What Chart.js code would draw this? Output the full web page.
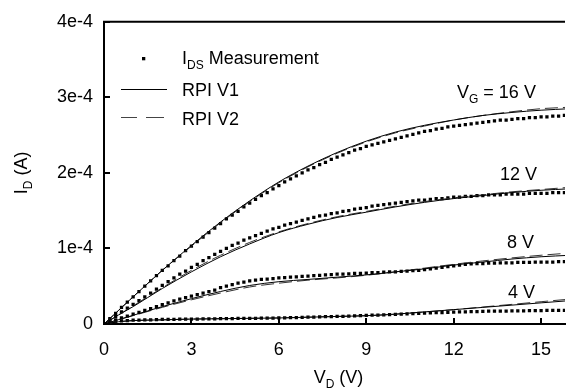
<!DOCTYPE html>
<html><head><meta charset="utf-8">
<script src="https://cdn.jsdelivr.net/npm/chart.js@4/dist/chart.umd.min.js"></script>
<style>html,body{margin:0;padding:0;background:#fff}#wrap{width:569px;height:389px}</style>
</head><body><div id="wrap"><canvas id="c" width="569" height="389"></canvas></div>
<script>
// Drain voltage V_D (V) for measured points
const vdMeas = [0,0.2,0.4,0.6,0.8,1,1.2,1.4,1.6,1.8,
 2,2.2,2.4,2.6,2.8,3,3.2,3.4,3.6,3.8,
 4,4.2,4.4,4.6,4.8,5,5.2,5.4,5.6,5.8,
 6,6.2,6.4,6.6,6.8,7,7.2,7.4,7.6,7.8,
 8,8.2,8.4,8.6,8.8,9,9.2,9.4,9.6,9.8,
 10,10.2,10.4,10.6,10.8,11,11.2,11.4,11.6,11.8,
 12,12.2,12.4,12.6,12.8,13,13.2,13.4,13.6,13.8,
 14,14.2,14.4,14.6,14.8,15,15.2,15.4,15.6,15.8,
 16];
// Measured I_DS in units of 1e-4 A
const idMeas16 = [0,0.07,0.14,0.22,0.29,0.36,0.43,0.50,0.57,0.64,
 0.71,0.77,0.84,0.90,0.97,1.03,1.09,1.15,1.21,1.27,
 1.33,1.39,1.44,1.49,1.55,1.60,1.65,1.70,1.74,1.79,
 1.83,1.88,1.92,1.96,2.00,2.04,2.07,2.11,2.14,2.18,
 2.21,2.24,2.27,2.30,2.32,2.35,2.37,2.39,2.41,2.43,
 2.45,2.47,2.49,2.51,2.53,2.55,2.56,2.58,2.59,2.61,
 2.62,2.63,2.64,2.65,2.66,2.67,2.68,2.69,2.70,2.70,
 2.71,2.72,2.72,2.73,2.73,2.74,2.74,2.75,2.75,2.76,
 2.76];
const idMeas12 = [0,0.05,0.10,0.16,0.21,0.26,0.31,0.36,0.41,0.46,
 0.51,0.56,0.61,0.66,0.70,0.75,0.79,0.84,0.88,0.92,
 0.96,1.00,1.04,1.07,1.11,1.14,1.17,1.20,1.23,1.26,
 1.28,1.31,1.33,1.35,1.37,1.39,1.41,1.43,1.44,1.46,
 1.47,1.49,1.50,1.52,1.53,1.54,1.56,1.57,1.58,1.59,
 1.60,1.61,1.62,1.63,1.64,1.64,1.65,1.66,1.66,1.67,
 1.68,1.68,1.69,1.69,1.70,1.70,1.71,1.71,1.71,1.72,
 1.72,1.72,1.72,1.73,1.73,1.73,1.73,1.74,1.74,1.74,
 1.74];
const idMeas8 = [0,0.03,0.055,0.08,0.105,0.13,0.155,0.18,0.205,0.23,
 0.255,0.28,0.305,0.33,0.35,0.37,0.39,0.41,0.43,0.45,
 0.48,0.50,0.52,0.54,0.555,0.57,0.58,0.59,0.595,0.60,
 0.61,0.615,0.62,0.625,0.63,0.635,0.64,0.645,0.65,0.655,
 0.66,0.66,0.665,0.67,0.67,0.675,0.68,0.68,0.685,0.69,
 0.69,0.695,0.70,0.705,0.71,0.72,0.73,0.74,0.75,0.76,
 0.77,0.78,0.79,0.795,0.80,0.80,0.805,0.805,0.81,0.81,
 0.81,0.815,0.815,0.815,0.82,0.82,0.82,0.82,0.825,0.825,
 0.83];
const idMeas4 = [0,0.015,0.03,0.04,0.045,0.05,0.052,0.054,0.056,0.058,
 0.06,0.06,0.062,0.063,0.064,0.065,0.066,0.067,0.068,0.069,
 0.07,0.071,0.072,0.073,0.074,0.075,0.076,0.077,0.078,0.079,
 0.08,0.082,0.084,0.086,0.088,0.09,0.092,0.094,0.096,0.098,
 0.10,0.102,0.104,0.107,0.11,0.113,0.116,0.119,0.122,0.125,
 0.128,0.131,0.134,0.137,0.14,0.143,0.146,0.149,0.152,0.155,
 0.157,0.159,0.161,0.163,0.165,0.167,0.169,0.17,0.171,0.172,
 0.173,0.174,0.175,0.176,0.177,0.178,0.179,0.18,0.18,0.181,
 0.182];
// Model curves (units 1e-4 A)
const vdModel = [0,0.5,1,2,3,4,5,6,7,8,9,10,11,12,13,14,15,16];
const idV1_16 = [0,0.18,0.36,0.71,1.04,1.35,1.63,1.88,2.09,2.27,2.42,2.54,2.63,2.70,2.76,2.80,2.83,2.85];
const idV2_16 = [0,0.18,0.36,0.71,1.03,1.34,1.62,1.87,2.08,2.26,2.41,2.53,2.62,2.70,2.76,2.81,2.85,2.87];
const idV1_12 = [0,0.12,0.23,0.47,0.69,0.89,1.06,1.21,1.32,1.41,1.48,1.55,1.61,1.66,1.70,1.74,1.77,1.79];
const idV2_12 = [0,0.12,0.24,0.48,0.71,0.91,1.08,1.22,1.33,1.42,1.49,1.56,1.62,1.67,1.71,1.75,1.78,1.81];
const idV1_8 = [0,0.058,0.115,0.23,0.335,0.43,0.51,0.56,0.59,0.62,0.65,0.69,0.73,0.78,0.82,0.86,0.89,0.91];
const idV2_8 = [0,0.056,0.11,0.22,0.32,0.41,0.49,0.54,0.58,0.61,0.645,0.69,0.74,0.79,0.835,0.875,0.91,0.94];
const idV1_4 = [0,0.03,0.045,0.055,0.065,0.07,0.075,0.08,0.09,0.10,0.11,0.13,0.16,0.19,0.22,0.25,0.28,0.31];
const idV2_4 = [0,0.03,0.045,0.055,0.065,0.07,0.075,0.08,0.09,0.10,0.11,0.13,0.16,0.19,0.225,0.26,0.295,0.33];

const xTicks = [0,3,6,9,12,15];
const yTicks = [0,1,2,3,4];
const yTickLabels = ['0','1e-4','2e-4','3e-4','4e-4'];

const FONT = '"Liberation Sans", Arial, Helvetica, sans-serif';
const pts = (xs, ys) => xs.map((x, i) => ({x: x, y: ys[i]}));

const measSet = (ys) => ({data: pts(vdMeas, ys), showLine: false, pointStyle: 'rect',
  pointRadius: 2.3, pointBackgroundColor: '#000', pointBorderWidth: 0, borderWidth: 0, order: 2});
const solidSet = (ys) => ({data: pts(vdModel, ys), showLine: true, pointRadius: 0, borderColor: '#000',
  borderWidth: 1, cubicInterpolationMode: 'monotone', order: 1});
const dashSet = (ys) => ({data: pts(vdModel, ys), showLine: true, pointRadius: 0, borderColor: '#333',
  borderWidth: 1, borderDash: [13, 5], cubicInterpolationMode: 'monotone', order: 1});

function drawParts(ctx, parts, x, y) {
  let cx = x;
  for (const [t, sub] of parts) {
    ctx.font = (sub ? '12px ' : '18px ') + FONT;
    ctx.fillText(t, cx, y + (sub ? 5 : 0));
    cx += ctx.measureText(t).width;
  }
  return cx - x;
}
function partsWidth(ctx, parts) {
  let w = 0;
  for (const [t, sub] of parts) { ctx.font = (sub ? '12px ' : '18px ') + FONT; w += ctx.measureText(t).width; }
  return w;
}

const decor = {
  id: 'decor',
  afterDatasetsDraw(chart) {
    const {ctx, chartArea: a, scales: {x, y}} = chart;
    ctx.save();
    ctx.strokeStyle = '#000'; ctx.fillStyle = '#000';
    // top frame
    ctx.lineWidth = 2;
    ctx.beginPath(); ctx.moveTo(a.left - 1, a.top); ctx.lineTo(a.right, a.top); ctx.stroke();
    // inward ticks
    for (const v of xTicks) {
      const px = Math.round(x.getPixelForValue(v));
      ctx.beginPath(); ctx.moveTo(px, a.bottom); ctx.lineTo(px, a.bottom - 6); ctx.stroke();
    }
    for (const v of yTicks) {
      const py = Math.round(y.getPixelForValue(v));
      ctx.beginPath(); ctx.moveTo(a.left, py); ctx.lineTo(a.left + 6, py); ctx.stroke();
    }
    ctx.textBaseline = 'alphabetic'; ctx.textAlign = 'left';
    // legend
    ctx.fillRect(142, 57, 3.3, 3.3);
    drawParts(ctx, [['I', 0], ['DS', 1], [' Measurement', 0]], 182, 64);
    ctx.lineWidth = 1;
    ctx.beginPath(); ctx.moveTo(121, 89.5); ctx.lineTo(167, 89.5); ctx.stroke();
    drawParts(ctx, [['RPI V1', 0]], 182, 96);
    ctx.strokeStyle = '#444';
    ctx.beginPath(); ctx.moveTo(121, 117.5); ctx.lineTo(137, 117.5); ctx.moveTo(146, 117.5); ctx.lineTo(164, 117.5); ctx.stroke();
    drawParts(ctx, [['RPI V2', 0]], 182, 125);
    // curve annotations
    drawParts(ctx, [['V', 0], ['G', 1], [' = 16 V', 0]], 457, 98);
    drawParts(ctx, [['12 V', 0]], 500, 180);
    drawParts(ctx, [['8 V', 0]], 507, 248);
    drawParts(ctx, [['4 V', 0]], 508, 298);
    // axis titles
    const xt = [['V', 0], ['D', 1], [' (V)', 0]];
    const xw = partsWidth(ctx, xt);
    drawParts(ctx, xt, (a.left + 545) / 2 + 14 - xw / 2, 383);
    const yt = [['I', 0], ['D', 1], [' (A)', 0]];
    const yw = partsWidth(ctx, yt);
    ctx.translate(27, (a.top + a.bottom) / 2);
    ctx.rotate(-Math.PI / 2);
    drawParts(ctx, yt, -yw / 2, 0);
    ctx.restore();
  }
};

new Chart(document.getElementById('c'), {
  type: 'scatter',
  data: {datasets: [
    measSet(idMeas16), measSet(idMeas12), measSet(idMeas8), measSet(idMeas4),
    solidSet(idV1_16), solidSet(idV1_12), solidSet(idV1_8), solidSet(idV1_4),
    dashSet(idV2_16), dashSet(idV2_12), dashSet(idV2_8), dashSet(idV2_4)
  ]},
  options: {
    responsive: false, animation: false, devicePixelRatio: 1,
    layout: {padding: {top: 18, right: 0, left: 0, bottom: 0}},
    plugins: {legend: {display: false}, tooltip: {enabled: false}},
    scales: {
      x: {type: 'linear', min: 0, max: 15.82,
        grid: {display: true, drawOnChartArea: false, drawTicks: false, color: 'rgba(0,0,0,0)'},
        border: {display: true, color: '#000', width: 2},
        ticks: {color: '#000', font: {family: FONT, size: 18}, padding: 15, callback: v => String(v)},
        afterBuildTicks: s => { s.ticks = xTicks.map(v => ({value: v})); },
        afterFit: s => { s.height = 65; }
      },
      y: {type: 'linear', min: 0, max: 4,
        grid: {display: true, drawOnChartArea: false, drawTicks: false, color: 'rgba(0,0,0,0)'},
        border: {display: true, color: '#000', width: 2},
        ticks: {color: '#000', font: {family: FONT, size: 18}, padding: 11,
          callback: v => yTickLabels[yTicks.indexOf(v)]},
        afterBuildTicks: s => { s.ticks = yTicks.map(v => ({value: v})); },
        afterFit: s => { s.width = 104; }
      }
    }
  },
  plugins: [decor]
});
</script>
</body></html>
